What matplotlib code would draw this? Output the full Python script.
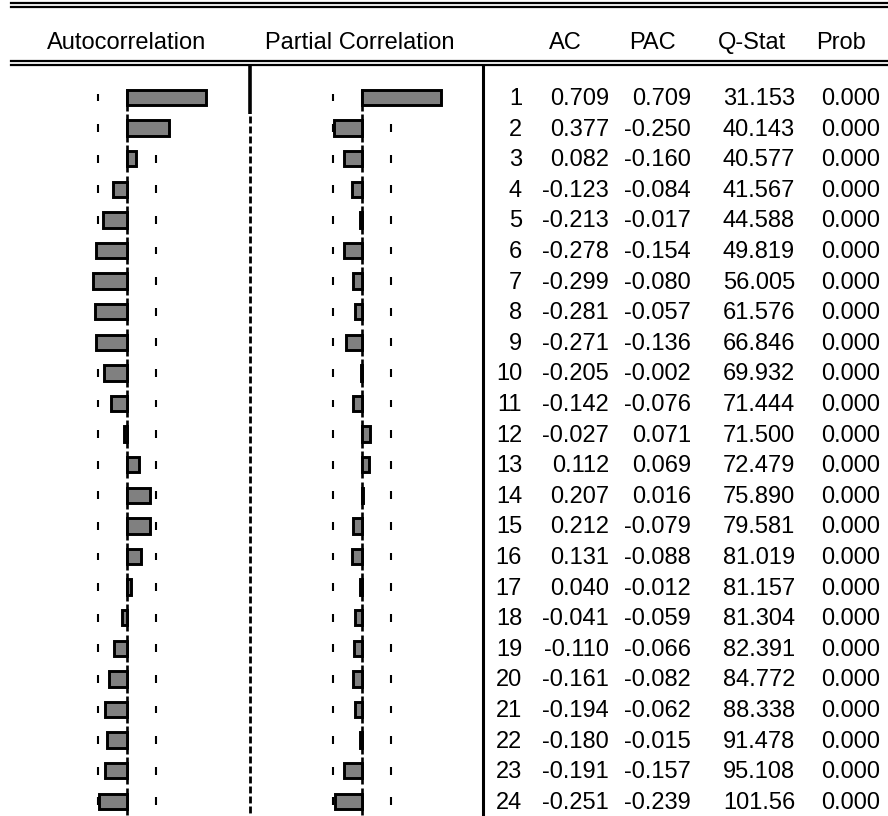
import numpy as np
import matplotlib
matplotlib.use("Agg")
import matplotlib.pyplot as plt
from matplotlib.lines import Line2D

plt.rcParams['font.family'] = ['Liberation Sans', 'DejaVu Sans']
plt.rcParams['lines.scale_dashes'] = False

# correlogram values
lags = np.arange(1, 25)
ac = [0.709, 0.377, 0.082, -0.123, -0.213, -0.278, -0.299, -0.281, -0.271, -0.205, -0.142, -0.027,
      0.112, 0.207, 0.212, 0.131, 0.040, -0.041, -0.110, -0.161, -0.194, -0.180, -0.191, -0.251]
pac = [0.709, -0.250, -0.160, -0.084, -0.017, -0.154, -0.080, -0.057, -0.136, -0.002, -0.076, 0.071,
       0.069, 0.016, -0.079, -0.088, -0.012, -0.059, -0.066, -0.082, -0.062, -0.015, -0.157, -0.239]
qstat = ['31.153', '40.143', '40.577', '41.567', '44.588', '49.819', '56.005', '61.576', '66.846',
         '69.932', '71.444', '71.500', '72.479', '75.890', '79.581', '81.019', '81.157', '81.304',
         '82.391', '84.772', '88.338', '91.478', '95.108', '101.56']
prob = [0.000] * 24
n_obs = 59
bound = 2 / np.sqrt(n_obs)

headers = ['AC', 'PAC', 'Q-Stat', 'Prob']

# layout in pixels
W, H = 888, 816
ROW0, ROW_H = 97.5, 30.6
TOP, BOT = 68, 816
SCALE = 111.9  # pixels per unit of correlation
FS = 17
BAR_FILL = '#808080'


def box(x0, y0, w, h):
    return [x0 / W, 1 - (y0 + h) / H, w / W, h / H]


def lag_of(ypx):
    return 1 + (ypx - ROW0) / ROW_H


fig = plt.figure(figsize=(W / 100, H / 100), dpi=100)

half = 1.05
panels = [(126.7, ac), (361.7, pac)]
for zero_px, vals in panels:
    ax = fig.add_axes(box(zero_px - half * SCALE, TOP, 2 * half * SCALE, BOT - TOP))
    ax.set_xlim(-half, half)
    ax.set_ylim(lag_of(BOT), lag_of(TOP))
    ax.axis('off')
    # zero line, one segment per row
    starts = lags - 0.45
    starts[0] = lags[0] - 0.28
    ax.vlines([0] * len(lags), starts, lags + 0.45, color='black', lw=1.9, zorder=1)
    ax.vlines([-bound] * len(lags), lags - 0.13, lags + 0.13, color='black', lw=1.5, zorder=1)
    ax.vlines([bound] * len(lags), lags - 0.13, lags + 0.13, color='black', lw=1.5, zorder=1)
    ax.barh(lags, vals, height=0.5, color=BAR_FILL, edgecolor='black', linewidth=2.1, zorder=2)

# table
tab = fig.add_axes(box(484, TOP, W - 484, BOT - TOP))
tab.set_xlim(484, W)
tab.set_ylim(lag_of(BOT), lag_of(TOP))
tab.axis('off')
col_right = [522, 609, 691, 795, 880]
for i, k in enumerate(lags):
    row = [str(k), f'{ac[i]:.3f}', f'{pac[i]:.3f}', qstat[i], f'{prob[i]:.3f}']
    for x, s in zip(col_right, row):
        tab.text(x, k + 0.05, s, ha='right', va='center', fontsize=FS)

# headers
head_y = 1 - 43 / H
fig.text(127 / W, head_y, 'Autocorrelation', ha='center', va='center', fontsize=FS)
fig.text(360 / W, head_y, 'Partial Correlation', ha='center', va='center', fontsize=FS)
for x, s in zip([565, 652, 752, 841], headers):
    fig.text(x / W, head_y, s, ha='center', va='center', fontsize=FS)

# rules
for ypx in [2.5, 6.5, 60.5, 64.5]:
    fig.add_artist(Line2D([11 / W, 1], [1 - ypx / H] * 2, transform=fig.transFigure,
                          color='black', lw=1.6))
fig.add_artist(Line2D([250 / W] * 2, [1 - 64 / H, 1 - 114 / H], transform=fig.transFigure,
                      color='black', lw=2.6, solid_capstyle='butt'))
fig.add_artist(Line2D([250 / W] * 2, [1 - 116 / H, 0], transform=fig.transFigure,
                      color='black', lw=2.0, linestyle=(0, (5, 2.2))))
fig.add_artist(Line2D([483 / W] * 2, [1 - 66 / H, 0], transform=fig.transFigure,
                      color='black', lw=2.2))

fig.savefig('out.png', dpi=100)
